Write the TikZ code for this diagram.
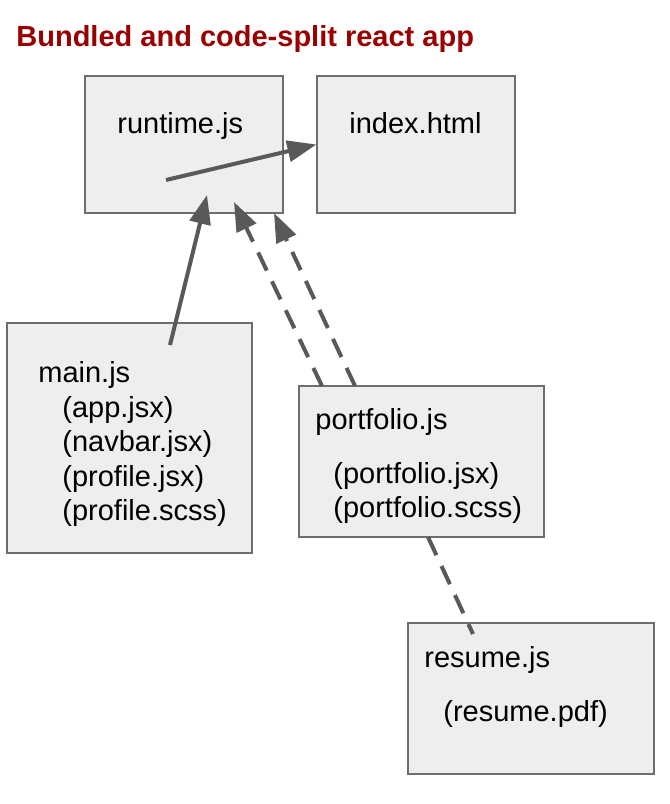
\documentclass[tikz,border=0pt]{standalone}
\usepackage{fontspec}
\setmainfont{Liberation Sans}
\usetikzlibrary{arrows.meta,fit}
\definecolor{boxfill}{HTML}{EEEEEE}
\definecolor{boxline}{HTML}{6E6E6E}
\definecolor{linkgray}{HTML}{595959}
\definecolor{titlered}{HTML}{990000}
\tikzset{
	box/.style={draw=boxline,fill=boxfill,line width=0.6pt,inner sep=0pt},
	lbl/.style={anchor=base west,inner sep=0pt},
	link/.style={draw=linkgray,line width=2pt,-{Triangle[length=14.5pt,width=10.5pt]}},
	dashlink/.style={link,dash pattern=on 10pt off 6pt}
}
\begin{document}
\begin{tikzpicture}[x=0.5pt,y=-0.5pt,font=\fontsize{14.5}{17.25}\selectfont]
	\useasboundingbox (0,0) rectangle (670,804);
	\node[lbl,font=\fontsize{14.5}{17.25}\selectfont\bfseries,text=titlered] (title) at (16,46) {Bundled and code-split react app};
	% boxes
	\node[box,fit={(85,76)(283,213)}] (runtime) {};
	\node[box,fit={(317,76)(515,213)}] (index) {};
	\node[box,fit={(7,323)(252,553)}] (main) {};
	\node[box,fit={(299,386)(544,537)}] (portfolio) {};
	\node[box,fit={(408,623)(654,774)}] (resume) {};
	% texts
	\node[lbl] (runtime-lbl) at (117,133) {runtime.js};
	\node[lbl] (index-lbl) at (349,133) {index.html};
	\node[lbl] (main-lbl) at (38,382) {main.js};
	\foreach \t/\y [count=\i] in {app.jsx/417,navbar.jsx/451,profile.jsx/486,profile.scss/520}
		\node[lbl] (main-\i) at (62,\y) {(\t)};
	\node[lbl] (portfolio-lbl) at (315,429) {portfolio.js};
	\foreach \t/\y [count=\i] in {portfolio.jsx/483,portfolio.scss/517}
		\node[lbl] (portfolio-\i) at (333,\y) {(\t)};
	\node[lbl] (resume-lbl) at (424,667) {resume.js};
	\node[lbl] (resume-1) at (443,721) {(resume.pdf)};
	% connector ends
	\path (166,180) coordinate (runtime-out)
		(207,195) coordinate (runtime-in1)
		(234,202) coordinate (runtime-in2)
		(274,213) coordinate (runtime-in3)
		(170,345) coordinate (main-out)
		(322,386) coordinate (portfolio-out1)
		(355,386) coordinate (portfolio-out2)
		(428,537) coordinate (portfolio-out3)
		(473,634) coordinate (resume-in);
	\draw[link] (runtime-out) -- (index.west);
	\draw[link] (main-out) -- (runtime-in1);
	\draw[dashlink] (portfolio-out1) -- (runtime-in2);
	\draw[dashlink] (portfolio-out2) -- (runtime-in3);
	\draw[dashlink,-] (portfolio-out3) -- (resume-in);
\end{tikzpicture}
\end{document}
